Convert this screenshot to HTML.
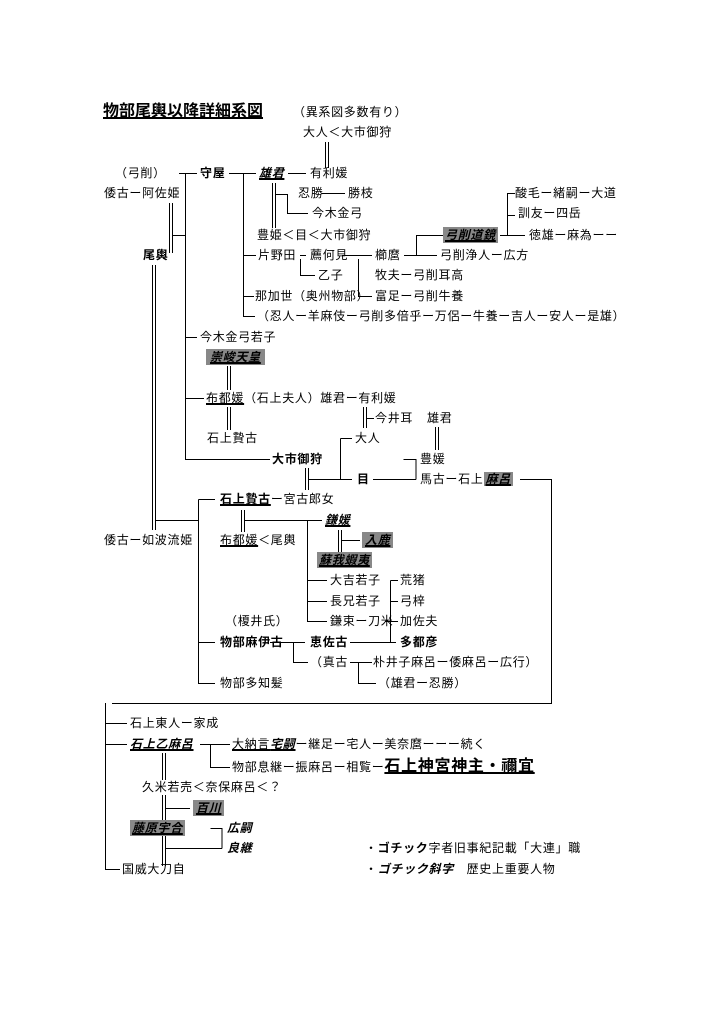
<!DOCTYPE html>
<html><head><meta charset="utf-8"><style>
body{margin:0;background:#fff;width:723px;height:1023px;position:relative;overflow:hidden;font-family:"Liberation Sans","Noto Sans CJK JP",sans-serif;}
.t{position:absolute;font-size:12px;line-height:16px;letter-spacing:0.7px;white-space:nowrap;color:#000;}
.b{font-weight:bold;}
.u{text-decoration:underline;text-decoration-thickness:2px;}
.i{font-style:italic;font-weight:bold;}
.g{background:#888;}
svg{position:absolute;left:0;top:0;}
</style></head><body>
<svg width="723" height="1023" stroke="#000" stroke-width="1" fill="none">
<path d="M325.5 142V168M328.5 142V168"/>
<path d="M179 173.5H197M229 173.5H256M288 173.5H306"/>
<path d="M185.5 173V459.5H270"/>
<path d="M243.5 173V316.5H255"/>
<path d="M243.5 255.5H256M243.5 296.5H254"/>
<path d="M272.5 183V228M275.5 183V228"/>
<path d="M276 194.5H287.5V213.5H308M322 193.5H345"/>
<path d="M300 255.5H306M300.5 259V275.5H315M342 255.5H372M358.5 259V296.5H372"/>
<path d="M404 255.5H437M416.5 255.5V235.5H443"/>
<path d="M500 235.5H525M507.5 235.5V193.5H515M507.5 215.5H515"/>
<path d="M169.5 203V253M172.5 203V253M172 235.5H185"/>
<path d="M152.5 265V530M155.5 265V530M156 520.5H198"/>
<path d="M185.5 337.5H197M185.5 398.5H204"/>
<path d="M227.5 366V390M230.5 366V390M227.5 407V430M230.5 407V430"/>
<path d="M363.5 407V428M366.5 407V428M367 418.5H374"/>
<path d="M435.5 427V450M438.5 427V450"/>
<path d="M340.5 438.5H352M340.5 438.5V479.5"/>
<path d="M305.5 468V490M308.5 468V490M309 479.5H352M373 479.5H416M403.5 459.5H416V479.5"/>
<path d="M520 479.5H551.5V703.5H112"/>
<path d="M198.5 499.5H215M198.5 499.5V683.5H215M198.5 642.5H215"/>
<path d="M241.5 510V532M244.5 510V532M245 520.5H322M307.5 520.5V621.5H327M307.5 580.5H327M307.5 601.5H327"/>
<path d="M338.5 530V552M341.5 530V552M342 540.5H360"/>
<path d="M390.5 580.5V642.5M390.5 580.5H398M390.5 601.5H398M385 621.5H398M350 642.5H396"/>
<path d="M270 642.5H305M293.5 642.5V662.5H308M350 662.5H372M358.5 662.5V683.5H376"/>
<path d="M105.5 703V869.5H120M105.5 723.5H127M105.5 744.5H127"/>
<path d="M200 744.5H230M210.5 744.5V767.5H230"/>
<path d="M162.5 753V780M165.5 753V780M162.5 795V820M165.5 795V820M162.5 835V866M165.5 835V866"/>
<path d="M166 808.5H190M166 848.5H222M210.5 828.5H222V848.5"/>
</svg>
<div class="t b u" style="left:103px;top:102px;font-size:16px;line-height:20px;letter-spacing:0">物部尾輿以降詳細系図</div>
<div class="t" style="left:293px;top:104px">（異系図多数有り）</div>
<div class="t" style="left:303px;top:124px">大人＜大市御狩</div>
<div class="t" style="left:115px;top:165px">（弓削）</div>
<div class="t b" style="left:200px;top:165px">守屋</div>
<div class="t i u" style="left:259px;top:165px">雄君</div>
<div class="t" style="left:310px;top:165px">有利媛</div>
<div class="t" style="left:104px;top:185px">倭古ー阿佐姫</div>
<div class="t" style="left:298px;top:185px">忍勝</div>
<div class="t" style="left:348px;top:185px">勝枝</div>
<div class="t" style="left:312px;top:205px">今木金弓</div>
<div class="t" style="left:257px;top:227px">豊姫＜目＜大市御狩</div>
<div class="t b" style="left:143px;top:247px">尾輿</div>
<div class="t" style="left:258px;top:247px">片野田</div>
<div class="t" style="left:310px;top:247px">薦何見</div>
<div class="t" style="left:375px;top:247px">櫛麿</div>
<div class="t" style="left:318px;top:267px">乙子</div>
<div class="t" style="left:375px;top:267px">牧夫ー弓削耳高</div>
<div class="t" style="left:255px;top:288px">那加世（奥州物部）</div>
<div class="t" style="left:375px;top:288px">富足ー弓削牛養</div>
<div class="t" style="left:257px;top:308px">（忍人ー羊麻伎ー弓削多倍乎ー万侶ー牛養ー吉人ー安人ー是雄）</div>
<div class="t" style="left:515px;top:185px">酸毛ー緒嗣ー大道</div>
<div class="t" style="left:518px;top:205px">訓友ー四岳</div>
<div class="t i u g" style="left:443px;top:227px;padding:0 2px">弓削道鏡</div>
<div class="t" style="left:529px;top:227px">徳雄ー麻為ーー</div>
<div class="t" style="left:440px;top:247px">弓削浄人ー広方</div>
<div class="t" style="left:200px;top:329px">今木金弓若子</div>
<div class="t i u g" style="left:206px;top:349px;padding:0 4px">崇峻天皇</div>
<div class="t" style="left:206px;top:390px"><span class="u">布都媛</span>（石上夫人）雄君ー有利媛</div>
<div class="t" style="left:375px;top:410px">今井耳</div>
<div class="t" style="left:427px;top:410px">雄君</div>
<div class="t" style="left:207px;top:430px">石上贄古</div>
<div class="t" style="left:355px;top:430px">大人</div>
<div class="t b" style="left:272px;top:451px">大市御狩</div>
<div class="t" style="left:420px;top:451px">豊媛</div>
<div class="t b" style="left:357px;top:471px">目</div>
<div class="t" style="left:420px;top:471px">馬古ー石上<span class="i u g" style="padding:0 2px">麻呂</span></div>
<div class="t b" style="left:220px;top:491px"><span class="u">石上贄古</span><span style="font-weight:normal">ー宮古郎女</span></div>
<div class="t i u" style="left:325px;top:512px">鎌媛</div>
<div class="t" style="left:104px;top:532px">倭古ー如波流姫</div>
<div class="t" style="left:220px;top:532px"><span class="u">布都媛</span>＜尾輿</div>
<div class="t i u g" style="left:362px;top:532px;padding:0 3px">入鹿</div>
<div class="t i u g" style="left:317px;top:552px;padding:0 2px">蘇我蝦夷</div>
<div class="t" style="left:330px;top:572px">大吉若子</div>
<div class="t" style="left:400px;top:572px">荒猪</div>
<div class="t" style="left:330px;top:593px">長兄若子</div>
<div class="t" style="left:400px;top:593px">弓梓</div>
<div class="t" style="left:225px;top:613px">（榎井氏）</div>
<div class="t" style="left:330px;top:613px">鎌束ー刀米</div>
<div class="t" style="left:400px;top:613px">加佐夫</div>
<div class="t b" style="left:220px;top:634px">物部麻伊古</div>
<div class="t b" style="left:310px;top:634px">恵佐古</div>
<div class="t b" style="left:400px;top:634px">多都彦</div>
<div class="t" style="left:310px;top:654px">（真古</div>
<div class="t" style="left:373px;top:654px">朴井子麻呂ー倭麻呂ー広行）</div>
<div class="t" style="left:220px;top:675px">物部多知髪</div>
<div class="t" style="left:378px;top:675px">（雄君ー忍勝）</div>
<div class="t" style="left:130px;top:715px">石上東人ー家成</div>
<div class="t i u" style="left:130px;top:736px">石上乙麻呂</div>
<div class="t" style="left:232px;top:736px"><span class="u">大納言<b><i>宅嗣</i></b></span>ー継足ー宅人ー美奈麿ーーー続く</div>
<div class="t" style="left:232px;top:759px">物部息継ー振麻呂ー相覧ー<span class="b u" style="font-size:16px">石上神宮神主・禰宜</span></div>
<div class="t" style="left:142px;top:779px">久米若売＜奈保麻呂＜？</div>
<div class="t i u g" style="left:193px;top:800px;padding:0 3px">百川</div>
<div class="t i u g" style="left:130px;top:820px;padding:0 2px">藤原宇合</div>
<div class="t i" style="left:227px;top:820px">広嗣</div>
<div class="t i" style="left:227px;top:840px">良継</div>
<div class="t" style="left:122px;top:861px">国威大刀自</div>
<div class="t" style="left:365px;top:840px">・<b>ゴチック</b>字者旧事紀記載「大連」職</div>
<div class="t" style="left:365px;top:861px">・<b><i>ゴチック斜字</i></b>　歴史上重要人物</div>
</body></html>
